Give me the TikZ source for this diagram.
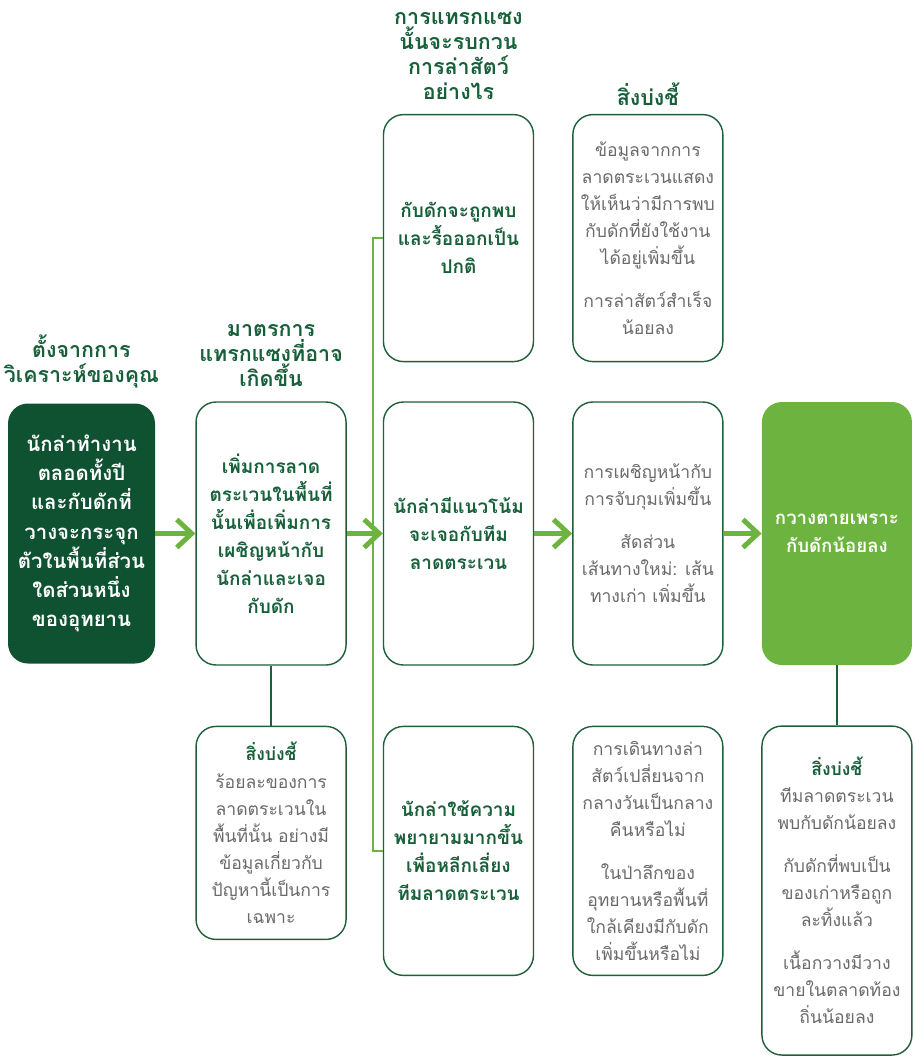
\documentclass[tikz,border=0pt]{standalone}
\usepackage{fontspec}
\setmainfont[Script=Thai]{Loma}
\usepackage{xcolor}
\usepackage{tikz}
\usetikzlibrary{arrows.meta, positioning}

\definecolor{darkgreen}{HTML}{0E5232}
\definecolor{titlegreen}{HTML}{17603A}
\definecolor{linegreen}{HTML}{1F5F3A}
\definecolor{lightgreen}{HTML}{6DB33F}
\definecolor{graytext}{HTML}{6A6A6A}

\begin{document}
\begin{tikzpicture}[
    % caixas das colunas
    mainbox/.style={rectangle, rounded corners=0.4cm, minimum width=3cm, minimum height=5.26cm, align=center, inner sep=2pt},
    hunterbox/.style={mainbox, fill=darkgreen, text=white, minimum width=2.94cm, minimum height=5.2cm, font=\bfseries\fontsize{11.6}{16.6}\selectfont},
    stepbox/.style={mainbox, draw=linegreen, line width=0.8pt, fill=white, text=titlegreen, font=\bfseries\fontsize{10.8}{15.9}\selectfont},
    resultbox/.style={mainbox, fill=lightgreen, text=white, font=\bfseries\fontsize{10.6}{15.9}\selectfont},
    % caixas de indicadores
    signbox/.style={rectangle, rounded corners=0.4cm, draw=linegreen, line width=0.8pt, fill=white, minimum width=3cm, align=center, inner sep=2pt, text=graytext, font=\fontsize{10}{15.4}\selectfont},
    head/.style={align=center, text=titlegreen, font=\bfseries\fontsize{12.2}{14.3}\selectfont},
    arrow/.style={-{Straight Barb[length=3mm, width=5.6mm]}, draw=lightgreen, line width=2.8pt},
    link/.style={draw=linegreen, line width=0.8pt},
    branch/.style={draw=lightgreen, line width=1pt}
]
\useasboundingbox (0,0) rectangle (18.28,-21.12);

% 1. Caça actual
\node[hunterbox] (hunt) at (1.63,-10.67) {นักล่าทำงาน\\ตลอดทั้งปี\\และกับดักที่\\วางจะกระจุก\\ตัวในพื้นที่ส่วน\\ใดส่วนหนึ่ง\\ของอุทยาน};
\node[head, above=0.18cm of hunt] (hunt_head) {ตั้งจากการ\\วิเคราะห์ของคุณ};

% 2. Intervenção
\node[stepbox, right=0.8cm of hunt] (patrol) {เพิ่มการลาด\\ตระเวนในพื้นที่\\นั้นเพื่อเพิ่มการ\\เผชิญหน้ากับ\\นักล่าและเจอ\\กับดัก};
\node[head, above=0.16cm of patrol] (patrol_head) {มาตรการ\\แทรกแซงที่อาจ\\เกิดขึ้น};
\node[signbox, minimum height=4.26cm, below=1.2cm of patrol] (patrol_sign) {{\bfseries\color{titlegreen}สิ่งบ่งชี้}\\ร้อยละของการ\\ลาดตระเวนใน\\พื้นที่นั้น อย่างมี\\ข้อมูลเกี่ยวกับ\\ปัญหานี้เป็นการ\\เฉพาะ};
\draw[link] (patrol) -- (patrol_sign);

% 3. Efeitos sobre a caça
\node[stepbox, right=0.72cm of patrol] (meet) {นักล่ามีแนวโน้ม\\จะเจอกับทีม\\ลาดตระเวน};
\node[stepbox, minimum height=4.94cm, above=0.78cm of meet] (found) {กับดักจะถูกพบ\\และรื้อออกเป็น\\ปกติ};
\node[stepbox, minimum height=4.98cm, below=1.2cm of meet] (avoid) {นักล่าใช้ความ\\พยายามมากขึ้น\\เพื่อหลีกเลี่ยง\\ทีมลาดตระเวน};
\node[head, above=0.16cm of found] (meet_head) {การแทรกแซง\\นั้นจะรบกวน\\การล่าสัตว์\\อย่างไร};
\draw[branch] (found.west) -- ++(-0.2,0) |- (avoid.west);

% 4. Indicadores
\node[signbox, minimum height=4.94cm, right=0.76cm of found] (found_sign) {ข้อมูลจากการ\\ลาดตระเวนแสดง\\ให้เห็นว่ามีการพบ\\กับดักที่ยังใช้งาน\\ได้อยู่เพิ่มขึ้น\\[9pt]การล่าสัตว์สำเร็จ\\น้อยลง};
\node[signbox, minimum height=5.26cm, right=0.76cm of meet] (meet_sign) {การเผชิญหน้ากับ\\การจับกุมเพิ่มขึ้น\\[9pt]สัดส่วน\\เส้นทางใหม่: เส้น\\ทางเก่า เพิ่มขึ้น};
\node[signbox, minimum height=4.98cm, right=0.76cm of avoid] (avoid_sign) {การเดินทางล่า\\สัตว์เปลี่ยนจาก\\กลางวันเป็นกลาง\\คืนหรือไม่\\[9pt]ในป่าลึกของ\\อุทยานหรือพื้นที่\\ใกล้เคียงมีกับดัก\\เพิ่มขึ้นหรือไม่};
\node[head, above=0.05cm of found_sign] (sign_head) {สิ่งบ่งชี้};

% 5. Resultado
\node[resultbox, right=0.76cm of meet_sign] (fewer) {กวางตายเพราะ\\กับดักน้อยลง};
\node[signbox, minimum height=6.58cm, below=1.2cm of fewer] (fewer_sign) {{\bfseries\color{titlegreen}สิ่งบ่งชี้}\\ทีมลาดตระเวน\\พบกับดักน้อยลง\\[9pt]กับดักที่พบเป็น\\ของเก่าหรือถูก\\ละทิ้งแล้ว\\[9pt]เนื้อกวางมีวาง\\ขายในตลาดท้อง\\ถิ่นน้อยลง};
\draw[link] (fewer) -- (fewer_sign);

% 6. Setas principais
\draw[arrow] (hunt) -- (patrol);
\draw[arrow] (patrol) -- (meet);
\draw[arrow] (meet) -- (meet_sign);
\draw[arrow] (meet_sign) -- (fewer);

\end{tikzpicture}
\end{document}
